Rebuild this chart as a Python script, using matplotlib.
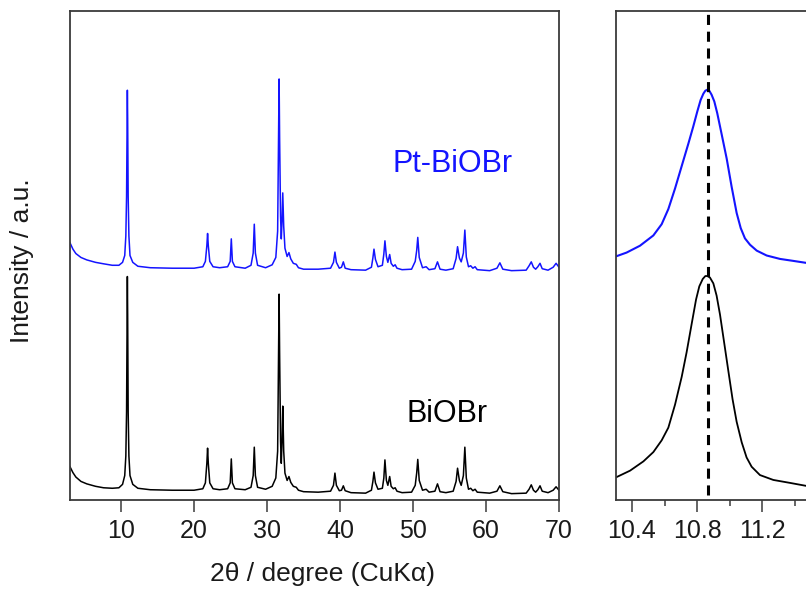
import matplotlib
matplotlib.use("Agg")
import matplotlib.pyplot as plt
from matplotlib.ticker import MultipleLocator

plt.rcParams["font.family"] = ["Liberation Sans", "DejaVu Sans"]

# full pattern, 2theta in degrees, intensity in a.u.
bio_x = [3.0, 3.4, 3.8, 4.5, 5.3, 6.5, 7.6, 8.8, 9.7, 10.2, 10.5, 10.65, 10.75, 10.82, 10.86,
         10.9, 10.97, 11.07, 11.22, 11.6, 12.3, 14.0, 17.0, 20.0, 21.2, 21.55, 21.75, 21.85,
         21.95, 22.15, 22.6, 23.5, 24.6, 24.95, 25.1, 25.25, 25.6, 27.0, 27.8, 28.1, 28.25,
         28.4, 28.7, 29.8, 30.7, 31.2, 31.45, 31.58, 31.65, 31.72, 31.85, 31.95, 32.05, 32.15,
         32.28, 32.45, 32.75, 33.0, 33.25, 33.6, 34.0, 34.3, 35.0, 37.0, 38.7, 39.1, 39.3, 39.5,
         39.9, 40.2, 40.45, 40.7, 41.5, 43.5, 44.3, 44.5, 44.65, 44.85, 45.2, 45.8, 46.0, 46.15,
         46.35, 46.55, 46.8, 47.0, 47.3, 47.55, 47.8, 48.5, 49.8, 50.3, 50.5, 50.65, 50.85,
         51.3, 51.8, 52.2, 53.0, 53.35, 53.7, 54.5, 55.5, 55.9, 56.1, 56.35, 56.6, 56.9, 57.1,
         57.3, 57.6, 57.9, 58.2, 58.5, 58.8, 60.5, 61.5, 61.9, 62.3, 63.5, 65.5, 65.9, 66.2,
         66.5, 66.8, 67.1, 67.4, 67.7, 68.5, 69.2, 69.6, 70.0]
bio_y = [6.8, 5.6, 4.7, 3.8, 3.3, 2.8, 2.5, 2.4, 2.5, 3.2, 5.0, 9.0, 18.0, 38.0, 45.7,
         38.0, 18.0, 9.0, 5.0, 3.2, 2.4, 2.1, 2.0, 2.0, 2.3, 3.5, 7.5, 10.6,
         7.5, 3.5, 2.3, 2.1, 2.3, 3.5, 8.4, 3.5, 2.3, 2.1, 2.6, 5.0, 10.8,
         5.0, 2.6, 2.2, 2.8, 4.5, 10.0, 30.0, 42.1, 30.0, 12.0, 7.5, 12.0, 19.2,
         10.0, 5.5, 4.0, 4.8, 3.6, 2.8, 2.6, 2.0, 1.7, 1.6, 1.8, 3.0, 5.5, 3.0,
         1.9, 2.0, 2.9, 1.9, 1.5, 1.4, 2.0, 3.8, 5.7, 3.5, 2.2, 2.4, 4.5, 8.2,
         4.0, 3.0, 4.8, 2.8, 2.3, 2.5, 1.8, 1.5, 1.6, 3.0, 5.5, 8.3, 4.0,
         2.0, 2.2, 1.6, 1.8, 3.3, 1.7, 1.5, 1.8, 3.8, 6.5, 4.0, 3.0, 5.0, 10.8,
         4.5, 2.2, 2.4, 1.9, 2.2, 1.6, 1.4, 1.8, 2.9, 1.7, 1.3, 1.4, 2.2, 3.1,
         2.0, 1.6, 2.1, 2.9, 1.8, 1.5, 2.0, 2.7, 2.0]

pt_x = bio_x
pt_y = [52.6, 51.3, 50.4, 49.6, 49.1, 48.6, 48.3, 48.0, 48.0, 48.6, 50.0, 54.0, 62.0, 78.0, 83.8,
        78.0, 62.0, 54.0, 50.0, 48.6, 47.8, 47.5, 47.4, 47.4, 47.7, 48.8, 52.0, 54.5,
        52.0, 48.8, 47.7, 47.5, 47.7, 48.8, 53.4, 48.8, 47.7, 47.4, 48.0, 50.5, 56.4,
        50.5, 48.0, 47.5, 48.1, 49.6, 55.0, 74.0, 86.1, 74.0, 58.0, 53.4, 57.0, 62.8,
        56.0, 51.5, 49.8, 50.6, 49.3, 48.4, 48.2, 47.5, 47.2, 47.2, 47.4, 48.6, 50.7, 48.6,
        47.4, 47.6, 48.7, 47.4, 47.1, 47.0, 47.6, 49.5, 51.3, 49.2, 47.7, 48.0, 50.3, 53.0,
        49.8, 48.6, 50.2, 48.4, 47.8, 48.1, 47.4, 47.1, 47.2, 48.8, 51.0, 53.7, 49.6,
        47.5, 47.7, 47.1, 47.3, 48.7, 47.2, 47.0, 47.3, 49.4, 51.8, 49.5, 48.7, 50.5, 55.2,
        49.7, 47.7, 47.9, 47.4, 47.7, 47.1, 46.9, 47.4, 48.5, 47.2, 46.9, 47.0, 47.9, 48.7,
        47.6, 47.2, 47.7, 48.4, 47.3, 47.0, 47.6, 48.4, 47.6]

# enlarged (001) reflection
zoom_pt_x = [10.300, 10.367, 10.449, 10.531, 10.582, 10.623, 10.664, 10.705, 10.746, 10.776,
             10.801, 10.821, 10.838, 10.850, 10.862, 10.874, 10.888, 10.905, 10.923, 10.950,
             10.981, 11.011, 11.042, 11.067, 11.093, 11.124, 11.165, 11.226, 11.308, 11.389,
             11.467]
zoom_pt_y = [49.8, 50.6, 52.0, 54.1, 56.4, 59.5, 63.7, 68.3, 72.9, 76.4,
             79.5, 81.8, 83.1, 83.7, 83.9, 83.7, 82.9, 81.5, 79.1, 74.8,
             69.8, 64.1, 58.7, 55.6, 53.5, 52.2, 51.0, 50.0, 49.3, 48.9,
             48.5]
zoom_bio_x = [10.300, 10.388, 10.470, 10.531, 10.582, 10.623, 10.664, 10.705, 10.735, 10.766,
              10.793, 10.813, 10.834, 10.850, 10.862, 10.878, 10.899, 10.919, 10.940, 10.964,
              10.991, 11.017, 11.042, 11.073, 11.103, 11.134, 11.185, 11.267, 11.369, 11.467]
zoom_bio_y = [4.6, 6.0, 7.9, 9.8, 12.2, 14.8, 19.5, 25.2, 30.2, 36.0,
              41.0, 43.7, 45.2, 45.8, 45.8, 45.5, 44.3, 41.8, 37.9, 32.5,
              26.4, 20.6, 16.0, 11.8, 8.7, 6.8, 5.1, 4.1, 3.5, 2.9]
ref_peak = 10.865

BLUE = "#1414ff"
SPINE = "#3a3a3a"

fig = plt.figure(figsize=(8.06, 5.89), dpi=100)
W, H = 806, 589
ax = fig.add_axes([70 / W, 1 - 500 / H, 489 / W, 489 / H])
ax2 = fig.add_axes([615.7 / W, 1 - 500 / H, 195.6 / W, 489 / H])

ax.plot(bio_x, bio_y, color="black", lw=1.1)
ax.plot(pt_x, pt_y, color=BLUE, lw=1.1)
ax.set_xlim(3, 70)
ax.set_ylim(0, 100)
ax.xaxis.set_major_locator(MultipleLocator(10))
ax.set_yticks([])
ax.text(55.4, 68.7, "Pt-BiOBr", color=BLUE, fontsize=22, ha="center", va="center")
ax.text(54.6, 17.6, "BiOBr", color="black", fontsize=22, ha="center", va="center")

ax2.plot(zoom_pt_x, zoom_pt_y, color=BLUE, lw=1.5)
ax2.plot(zoom_bio_x, zoom_bio_y, color="black", lw=1.3)
ax2.axvline(ref_peak, ymin=0.01, ymax=1.0, color="black", lw=2.2, linestyle=(0, (3.3, 2.2)))
ax2.set_xlim(10.3, 11.5)
ax2.set_ylim(0, 100)
ax2.xaxis.set_minor_locator(MultipleLocator(0.2))
ax2.set_xticks([10.4, 10.8, 11.2])
ax2.set_xticklabels(["10.4", "10.8", "11.2"])
ax2.set_yticks([])

for a in (ax, ax2):
    for s in a.spines.values():
        s.set_color(SPINE)
        s.set_linewidth(1.3)
    a.tick_params(axis="x", which="major", direction="out", length=8.5, width=1.1,
                  color=SPINE, labelsize=18, pad=5, labelcolor="#1a1a1a")
    a.tick_params(axis="x", which="minor", direction="out", length=4.5, width=1.1, color=SPINE)

fig.text(322 / W, 1 - 574 / H, "2θ / degree (CuKα)", fontsize=19, ha="center", va="center",
         color="#1a1a1a")
fig.text(22.5 / W, 1 - 261 / H, "Intensity / a.u.", fontsize=19, rotation=90,
         ha="center", va="center", color="#1a1a1a")

fig.savefig("out.png", dpi=100)
